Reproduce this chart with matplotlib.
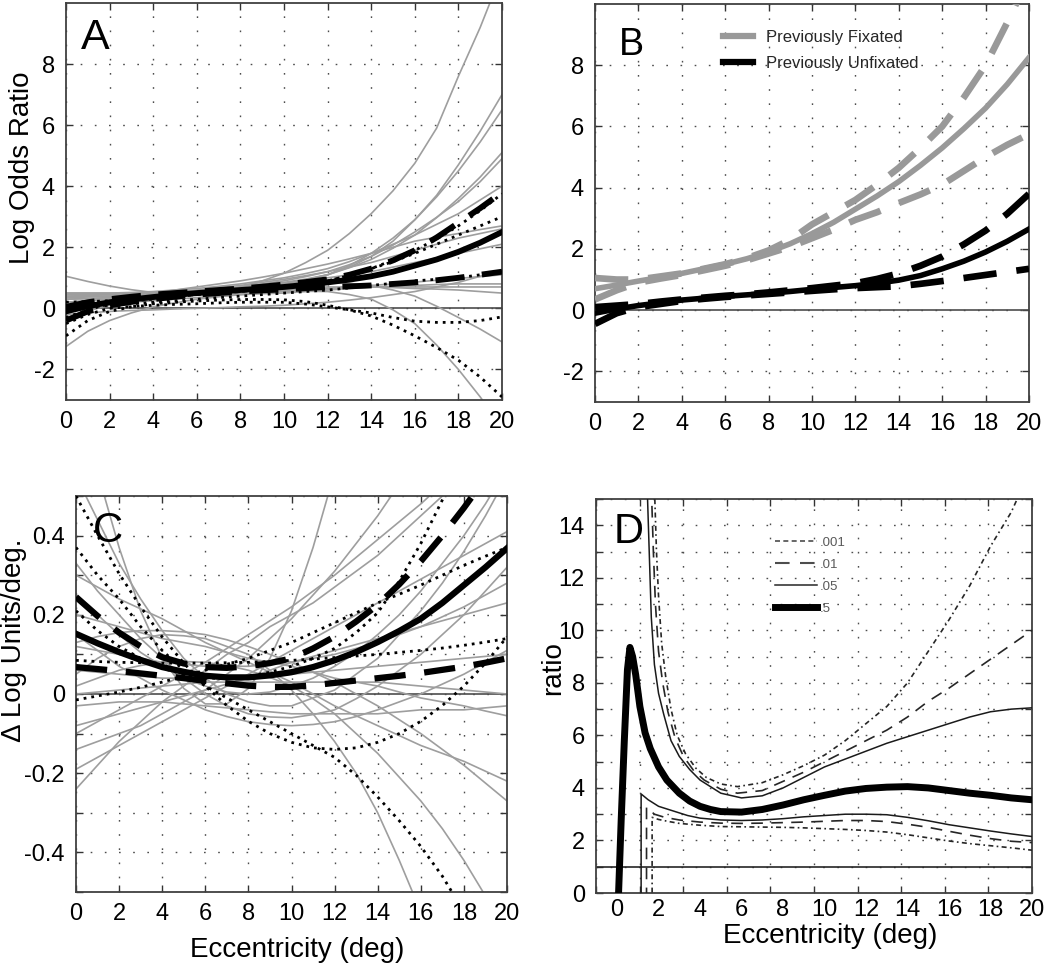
import matplotlib
matplotlib.use('Agg')
import matplotlib.pyplot as plt
from matplotlib.lines import Line2D

plt.rcParams['font.family'] = ['Liberation Sans', 'DejaVu Sans']
plt.rcParams['axes.unicode_minus'] = False

# ---------------- data ----------------
ecc = list(range(0, 21))

# Panel A : log odds ratio
a_mean = [-0.1, 0.07, 0.2, 0.29, 0.37, 0.44, 0.5, 0.55, 0.6, 0.65, 0.7, 0.77, 0.85, 0.94, 1.05,
          1.2, 1.4, 1.6, 1.85, 2.15, 2.5]
a_ci_hi = [0.05, 0.2, 0.3, 0.38, 0.45, 0.5, 0.55, 0.6, 0.65, 0.71, 0.78, 0.86, 0.95, 1.1, 1.3,
           1.57, 1.9, 2.32, 2.8, 3.28, 3.8]
a_ci_lo = [-0.4, -0.1, 0.1, 0.21, 0.3, 0.38, 0.45, 0.5, 0.55, 0.59, 0.62, 0.66, 0.7, 0.72, 0.75,
           0.8, 0.85, 0.92, 1.0, 1.1, 1.2]
a_dotted = [
    [-0.9, -0.4, -0.1, 0.05, 0.15, 0.2, 0.24, 0.27, 0.29, 0.29, 0.28, 0.22, 0.1, -0.05, -0.25,
     -0.55, -0.9, -1.28, -1.7, -2.25, -2.9],
    [-0.5, -0.2, 0.0, 0.06, 0.1, 0.13, 0.15, 0.18, 0.2, 0.2, 0.2, 0.14, 0.05, -0.05, -0.15,
     -0.3, -0.42, -0.46, -0.46, -0.4, -0.28],
    [-0.3, -0.05, 0.15, 0.24, 0.3, 0.38, 0.45, 0.5, 0.55, 0.62, 0.7, 0.79, 0.9, 1.08, 1.3,
     1.53, 1.8, 2.1, 2.4, 2.7, 3.0],
    [0.0, 0.05, 0.1, 0.15, 0.2, 0.25, 0.3, 0.35, 0.4, 0.45, 0.5, 0.55, 0.6, 0.67, 0.75,
     0.82, 0.9, 0.95, 1.0, 1.1, 1.2],
    [0.2, 0.22, 0.25, 0.3, 0.35, 0.4, 0.45, 0.5, 0.55, 0.62, 0.7, 0.79, 0.9, 1.08, 1.3,
     1.58, 1.9, 2.27, 2.7, 3.2, 3.75],
]
a_grey = [
    [0.2, 0.25, 0.3, 0.35, 0.4, 0.45, 0.5, 0.58, 0.7, 0.9, 1.15, 1.5, 1.9, 2.45, 3.1, 3.85,
     4.75, 5.9, 7.6, 9.2, 11.0],
    [0.3, 0.32, 0.35, 0.37, 0.4, 0.45, 0.5, 0.55, 0.6, 0.7, 0.8, 0.93, 1.1, 1.35, 1.7, 2.2,
     2.9, 3.7, 4.7, 5.8, 7.0],
    [0.4, 0.4, 0.4, 0.42, 0.45, 0.47, 0.5, 0.55, 0.6, 0.7, 0.8, 0.93, 1.1, 1.4, 1.8, 2.3,
     2.9, 3.65, 4.5, 5.45, 6.5],
    [0.0, 0.1, 0.2, 0.28, 0.35, 0.43, 0.5, 0.57, 0.65, 0.75, 0.85, 0.96, 1.1, 1.33, 1.6, 1.97,
     2.4, 2.97, 3.6, 4.3, 5.1],
    [-0.3, -0.08, 0.1, 0.2, 0.3, 0.4, 0.5, 0.6, 0.7, 0.8, 0.9, 1.04, 1.2, 1.43, 1.7, 2.07,
     2.5, 2.98, 3.5, 4.15, 4.9],
    [0.5, 0.5, 0.5, 0.52, 0.55, 0.6, 0.65, 0.72, 0.8, 0.9, 1.0, 1.14, 1.3, 1.53, 1.8, 2.1,
     2.4, 2.75, 3.1, 3.55, 4.0],
    [0.4, 0.42, 0.45, 0.47, 0.5, 0.6, 0.7, 0.8, 0.9, 1.02, 1.15, 1.3, 1.45, 1.62, 1.8, 2.0,
     2.2, 2.33, 2.45, 2.58, 2.7],
    [0.2, 0.25, 0.3, 0.35, 0.4, 0.45, 0.5, 0.57, 0.65, 0.72, 0.8, 0.9, 1.0, 1.1, 1.2, 1.35,
     1.5, 1.65, 1.8, 1.95, 2.1],
    [1.05, 0.88, 0.73, 0.61, 0.52, 0.47, 0.45, 0.46, 0.48, 0.52, 0.56, 0.6, 0.65, 0.7, 0.75,
     0.8, 0.86, 0.92, 0.98, 1.04, 1.1],
    [0.35, 0.37, 0.4, 0.42, 0.45, 0.47, 0.5, 0.52, 0.55, 0.57, 0.6, 0.62, 0.65, 0.67, 0.7,
     0.7, 0.7, 0.7, 0.7, 0.7, 0.7],
    [0.5, 0.5, 0.5, 0.5, 0.5, 0.52, 0.55, 0.57, 0.6, 0.62, 0.65, 0.68, 0.7, 0.7, 0.7, 0.68,
     0.65, 0.63, 0.6, 0.55, 0.5],
    [0.3, 0.32, 0.35, 0.37, 0.4, 0.45, 0.5, 0.55, 0.6, 0.67, 0.75, 0.8, 0.85, 0.82, 0.75, 0.6,
     0.4, 0.07, -0.3, -0.68, -1.1],
    [-1.25, -0.75, -0.4, -0.15, 0.05, 0.18, 0.3, 0.38, 0.45, 0.5, 0.55, 0.56, 0.55, 0.45, 0.3,
     -0.05, -0.5, -1.2, -2.0, -2.9, -3.9],
    [0.0, 0.08, 0.15, 0.2, 0.25, 0.3, 0.35, 0.4, 0.45, 0.48, 0.5, 0.55, 0.6, 0.65, 0.7, 0.72,
     0.75, 0.78, 0.8, 0.8, 0.8],
    [-0.2, -0.15, -0.1, -0.07, -0.05, -0.02, 0.0, 0.02, 0.05, 0.07, 0.1, 0.15, 0.2, 0.27, 0.35,
     0.45, 0.55, 0.7, 0.85, 1.05, 1.25],
    [0.45, 0.45, 0.45, 0.47, 0.5, 0.55, 0.6, 0.67, 0.75, 0.85, 0.95, 1.07, 1.2, 1.35, 1.5, 1.7,
     1.9, 2.1, 2.3, 2.45, 2.6],
]

# Panel B : group fits
b_fix_mean = [0.7, 0.82, 0.95, 1.07, 1.2, 1.35, 1.5, 1.68, 1.9, 2.17, 2.5, 2.87, 3.3, 3.73, 4.2,
              4.73, 5.3, 5.93, 6.6, 7.38, 8.25]
b_fix_hi = [1.05, 1.0, 1.0, 1.1, 1.2, 1.35, 1.5, 1.7, 1.95, 2.3, 2.8, 3.2, 3.6, 4.1, 4.65,
            5.3, 6.0, 6.95, 8.0, 9.4, 10.9]
b_fix_lo = [0.35, 0.65, 0.9, 1.03, 1.15, 1.3, 1.45, 1.63, 1.85, 2.07, 2.35, 2.63, 2.95, 3.2, 3.5,
            3.78, 4.1, 4.55, 5.0, 5.4, 5.75]
b_unf_mean = [-0.1, 0.04, 0.15, 0.24, 0.33, 0.39, 0.45, 0.5, 0.55, 0.61, 0.68, 0.74, 0.8, 0.88,
              0.98, 1.13, 1.35, 1.6, 1.9, 2.25, 2.65]
b_unf_hi = [0.1, 0.15, 0.2, 0.28, 0.35, 0.41, 0.47, 0.52, 0.58, 0.65, 0.72, 0.8, 0.88, 1.02, 1.2,
            1.45, 1.75, 2.15, 2.6, 3.15, 3.8]
b_unf_lo = [-0.45, -0.1, 0.1, 0.2, 0.3, 0.37, 0.43, 0.48, 0.53, 0.58, 0.63, 0.68, 0.72, 0.75,
            0.78, 0.86, 0.95, 1.05, 1.15, 1.25, 1.35]
b_labels = ['Previously Fixated', 'Previously Unfixated']

# Panel C : slope (delta log units / deg)
c_mean = [0.152, 0.128, 0.106, 0.086, 0.068, 0.056, 0.046, 0.042, 0.042, 0.047, 0.055, 0.068,
          0.085, 0.106, 0.131, 0.159, 0.19, 0.23, 0.275, 0.32, 0.368]
c_ci_hi = [0.245, 0.197, 0.155, 0.12, 0.093, 0.077, 0.068, 0.066, 0.07, 0.078, 0.09, 0.115,
           0.145, 0.183, 0.225, 0.277, 0.335, 0.4, 0.47, 0.545, 0.62]
c_ci_lo = [0.068, 0.063, 0.058, 0.052, 0.046, 0.04, 0.033, 0.027, 0.021, 0.018, 0.018, 0.022,
           0.028, 0.034, 0.04, 0.046, 0.053, 0.061, 0.069, 0.079, 0.09]
c_dotted = [
    [0.5, 0.4, 0.304, 0.22, 0.144, 0.078, 0.02, -0.029, -0.069, -0.1, -0.122, -0.136, -0.14,
     -0.136, -0.122, -0.1, -0.069, -0.029, 0.02, 0.078, 0.144],
    [0.37, 0.3, 0.24, 0.17, 0.11, 0.06, 0.02, -0.01, -0.04, -0.07, -0.1, -0.13, -0.16, -0.205,
     -0.26, -0.32, -0.385, -0.46, -0.55, -0.65, -0.75],
    [0.085, 0.082, 0.08, 0.079, 0.078, 0.078, 0.078, 0.079, 0.08, 0.082, 0.085, 0.088, 0.092,
     0.096, 0.1, 0.105, 0.11, 0.116, 0.123, 0.131, 0.14],
    [-0.015, -0.005, 0.005, 0.017, 0.03, 0.045, 0.06, 0.075, 0.09, 0.11, 0.13, 0.155, 0.18,
     0.205, 0.23, 0.252, 0.275, 0.3, 0.325, 0.348, 0.37],
    [0.21, 0.16, 0.12, 0.09, 0.065, 0.05, 0.04, 0.04, 0.045, 0.055, 0.07, 0.09, 0.115, 0.155,
     0.205, 0.285, 0.38, 0.49, 0.6, 0.72, 0.85],
]
c_grey = [
    [0.8, 0.56, 0.37, 0.21, 0.09, 0.014, -0.025, -0.025, 0.014, 0.09, 0.21, 0.37, 0.56, 0.8,
     1.07, 1.4, 1.8, 2.2, 2.6, 3.1, 3.6],
    [0.55, 0.44, 0.33, 0.24, 0.16, 0.09, 0.04, 0.0, -0.02, -0.03, -0.03, -0.01, 0.01, 0.05, 0.09,
     0.15, 0.21, 0.28, 0.36, 0.45, 0.55],
    [-0.24, -0.18, -0.12, -0.07, -0.02, 0.02, 0.06, 0.1, 0.13, 0.17, 0.2, 0.23, 0.27, 0.31, 0.35,
     0.4, 0.45, 0.5, 0.56, 0.63, 0.7],
    [-0.19, -0.16, -0.13, -0.1, -0.07, -0.04, -0.01, 0.02, 0.05, 0.08, 0.11, 0.14, 0.17, 0.2,
     0.23, 0.26, 0.29, 0.32, 0.35, 0.38, 0.41],
    [-0.08, -0.065, -0.05, -0.035, -0.02, -0.005, 0.01, 0.025, 0.04, 0.06, 0.08, 0.095, 0.11,
     0.125, 0.14, 0.155, 0.17, 0.185, 0.2, 0.215, 0.23],
    [0.3, 0.27, 0.24, 0.215, 0.19, 0.16, 0.13, 0.105, 0.08, 0.055, 0.03, 0.0, -0.03, -0.055,
     -0.08, -0.105, -0.13, -0.15, -0.17, -0.195, -0.22],
    [0.2, 0.185, 0.17, 0.155, 0.14, 0.13, 0.12, 0.105, 0.09, 0.08, 0.07, 0.055, 0.04, 0.03, 0.02,
     0.005, -0.01, -0.02, -0.03, -0.043, -0.055],
    [0.13, 0.145, 0.155, 0.16, 0.16, 0.157, 0.15, 0.137, 0.12, 0.1, 0.08, 0.055, 0.03, 0.0, -0.03,
     -0.065, -0.1, -0.14, -0.18, -0.225, -0.27],
    [0.05, 0.09, 0.12, 0.14, 0.15, 0.147, 0.14, 0.12, 0.1, 0.06, 0.01, -0.05, -0.12, -0.2, -0.3,
     -0.42, -0.55, -0.7, -0.85, -1.0, -1.2],
    [0.02, 0.04, 0.06, 0.072, 0.08, 0.082, 0.08, 0.072, 0.06, 0.042, 0.02, -0.012, -0.05, -0.1,
     -0.15, -0.21, -0.27, -0.34, -0.42, -0.51, -0.6],
    [0.15, 0.11, 0.07, 0.04, 0.01, -0.015, -0.04, -0.057, -0.07, -0.077, -0.08, -0.077, -0.07,
     -0.057, -0.04, -0.02, 0.0, 0.025, 0.05, 0.08, 0.11],
    [0.33, 0.26, 0.2, 0.14, 0.09, 0.04, 0.0, -0.03, -0.05, -0.058, -0.06, -0.052, -0.04, -0.012,
     0.02, 0.06, 0.1, 0.15, 0.2, 0.26, 0.32],
    [-0.1, -0.07, -0.04, -0.01, 0.02, 0.05, 0.08, 0.115, 0.15, 0.185, 0.22, 0.26, 0.3, 0.345,
     0.39, 0.435, 0.48, 0.53, 0.58, 0.63, 0.68],
    [0.0, 0.005, 0.01, 0.015, 0.02, 0.025, 0.03, 0.03, 0.03, 0.03, 0.03, 0.03, 0.03, 0.03, 0.03,
     0.025, 0.02, 0.015, 0.01, 0.005, 0.0],
    [0.06, 0.055, 0.05, 0.045, 0.04, 0.04, 0.04, 0.04, 0.04, 0.045, 0.05, 0.055, 0.06, 0.065,
     0.07, 0.075, 0.08, 0.085, 0.09, 0.095, 0.1],
    [0.25, 0.2, 0.15, 0.105, 0.07, 0.04, 0.02, 0.005, 0.0, 0.005, 0.02, 0.04, 0.07, 0.105, 0.15,
     0.2, 0.26, 0.33, 0.4, 0.48, 0.57],
    [-0.03, -0.025, -0.02, -0.02, -0.02, -0.025, -0.03, -0.035, -0.04, -0.045, -0.05, -0.05,
     -0.05, -0.05, -0.05, -0.045, -0.04, -0.04, -0.04, -0.035, -0.03],
    [0.12, 0.11, 0.1, 0.09, 0.08, 0.075, 0.07, 0.07, 0.07, 0.075, 0.08, 0.09, 0.1, 0.115, 0.13,
     0.15, 0.17, 0.195, 0.22, 0.25, 0.28],
    [-0.14, -0.12, -0.1, -0.08, -0.05, -0.02, 0.01, 0.05, 0.09, 0.14, 0.19, 0.25, 0.31, 0.38,
     0.45, 0.53, 0.62, 0.72, 0.83, 0.95, 1.08],
]

# Panel D : ratio, per significance level
d_p5_x = [0.05, 0.2, 0.35, 0.5, 0.62, 0.75, 0.9, 1.1, 1.35, 1.6, 2.0, 2.4, 3.0, 3.5, 4.0, 4.5,
          5.0, 6, 7, 8, 9, 10, 11, 12, 13, 14, 15, 16, 17, 18, 19, 20]
d_p5_y = [-0.5, 2.8, 5.8, 8.5, 9.35, 9.0, 8.3, 7.1, 6.1, 5.5, 4.8, 4.3, 3.8, 3.5, 3.3, 3.18,
          3.1, 3.08, 3.18, 3.35, 3.55, 3.72, 3.88, 3.98, 4.03, 4.05, 4.0, 3.9, 3.8, 3.72, 3.62, 3.55]
d_05_hi_x = [1.45, 1.55, 1.65, 1.8, 2.0, 2.25, 2.6, 3.0, 3.5, 4.0, 5.0, 6.0, 7.0, 8.0, 9.0, 10,
             11, 12, 13, 14, 15, 16, 17, 18, 19, 20]
d_05_hi_y = [15.5, 13, 10.5, 8.7, 7.6, 6.8, 5.8, 5.2, 4.7, 4.3, 3.8, 3.62, 3.7, 4.0, 4.4, 4.8,
             5.1, 5.4, 5.7, 5.95, 6.2, 6.45, 6.7, 6.9, 7.0, 7.05]
d_01_hi_x = [1.65, 1.75, 1.85, 2.0, 2.2, 2.45, 2.8, 3.2, 3.7, 4.2, 5.0, 5.8, 7, 8, 9, 10, 11, 12,
             13, 14, 15, 16, 17, 18, 19, 20]
d_01_hi_y = [15.5, 13, 11, 9.2, 8.0, 6.9, 5.9, 5.2, 4.65, 4.3, 3.95, 3.8, 3.9, 4.25, 4.6, 5.0,
             5.4, 5.8, 6.2, 6.7, 7.3, 7.8, 8.35, 8.9, 9.45, 10.0]
d_001_hi_x = [1.8, 1.9, 2.0, 2.15, 2.35, 2.6, 2.9, 3.3, 3.8, 4.3, 5.0, 5.8, 7, 8, 9, 10, 11, 12,
              13, 14, 15, 16, 17, 18, 19, 19.4]
d_001_hi_y = [15.5, 13, 11.3, 9.5, 8.2, 7.0, 6.0, 5.3, 4.75, 4.4, 4.15, 4.05, 4.2, 4.5, 4.85,
              5.25, 5.8, 6.45, 7.1, 8.0, 9.2, 10.4, 11.7, 13.2, 14.5, 15.2]
d_05_lo_x = [1.16, 1.16, 1.5, 2.0, 2.6, 3.4, 4, 5, 6, 7, 8, 9, 10, 11, 12, 13, 14, 15, 16, 17,
             18, 19, 20]
d_05_lo_y = [-1, 3.77, 3.55, 3.3, 3.15, 2.95, 2.85, 2.78, 2.76, 2.78, 2.83, 2.9, 2.95, 3.0, 3.0,
             2.98, 2.88, 2.75, 2.6, 2.48, 2.36, 2.25, 2.15]
d_01_lo_x = [1.42, 1.42, 1.8, 2.3, 3, 4, 5, 6, 7, 8, 9, 10, 11, 12, 13, 14, 15, 16, 17, 18, 19, 20]
d_01_lo_y = [-1, 3.26, 3.0, 2.88, 2.78, 2.7, 2.66, 2.65, 2.66, 2.68, 2.7, 2.73, 2.76, 2.76, 2.72,
             2.62, 2.5, 2.35, 2.2, 2.07, 1.97, 1.92]
d_001_lo_x = [1.69, 1.69, 2.0, 2.5, 3, 4, 5, 6, 7, 8, 9, 10, 11, 12, 13, 14, 15, 16, 17, 18, 19, 20]
d_001_lo_y = [-1, 2.88, 2.8, 2.72, 2.65, 2.58, 2.53, 2.52, 2.51, 2.5, 2.48, 2.45, 2.42, 2.38, 2.32,
              2.22, 2.1, 1.98, 1.88, 1.8, 1.72, 1.63]
d_labels = ['.001', '.01', '.05', '.5']

# ---------------- styling helpers ----------------
GRID_LS = (0, (1.2, 9))
GREY = '0.62'
BLACK_DASH = (0, (5, 3))
DOT_LS = (0, (1, 1.8))

fig = plt.figure(figsize=(10.5, 9.64), dpi=100)

axA = fig.add_axes([0.06286, 0.5851, 0.41524, 0.41183])
axB = fig.add_axes([0.56667, 0.58299, 0.41333, 0.41286])
axC = fig.add_axes([0.07238, 0.07469, 0.41048, 0.41079])
axD = fig.add_axes([0.56762, 0.07365, 0.41524, 0.40871])


def base_style(ax):
    for s in ax.spines.values():
        s.set_linewidth(1.3)
        s.set_color('0.25')
    ax.tick_params(which='both', direction='in', top=True, right=True, length=5,
                   width=1.0, color='0.2', labelsize=17, pad=8)
    ax.grid(True, which='both', linestyle=GRID_LS, color='0.3', linewidth=1.0)
    ax.set_axisbelow(True)


# ---- Panel A ----
axA.set_xlim(0, 20)
axA.set_ylim(-3, 10)
axA.set_xticks(range(0, 21, 2))
axA.set_yticks(range(-2, 9, 2))
base_style(axA)
axA.axhline(0, color='0.3', lw=1.2, zorder=1)
for g in a_grey:
    axA.plot(ecc, g, color=GREY, lw=1.2, zorder=2)
for d in a_dotted:
    axA.plot(ecc, d, color='black', lw=2.0, linestyle=DOT_LS, zorder=3)
axA.plot(ecc, a_ci_hi, color='black', lw=4.2, linestyle=BLACK_DASH, dash_capstyle='butt', zorder=4)
axA.plot(ecc, a_ci_lo, color='black', lw=4.2, linestyle=BLACK_DASH, dash_capstyle='butt', zorder=4)
axA.plot(ecc, a_mean, color='black', lw=4.2, zorder=5)
axA.set_ylabel('Log Odds Ratio', fontsize=20)
axA.yaxis.set_label_coords(-0.101, 0.584)
axA.yaxis.label.set_va('center')
axA.text(0.0665, 0.912, 'A', transform=axA.transAxes, fontsize=31, ha='center', va='center')

# ---- Panel B ----
axB.set_xlim(0, 20)
axB.set_ylim(-3, 10)
axB.set_xticks(range(0, 21, 2))
axB.set_yticks(range(-2, 9, 2))
base_style(axB)
axB.axhline(0, color='0.3', lw=1.2, zorder=1)
axB.plot(ecc, b_fix_hi, color='0.6', lw=4.8, linestyle=BLACK_DASH, dash_capstyle='butt', zorder=3)
axB.plot(ecc, b_fix_lo, color='0.6', lw=4.8, linestyle=BLACK_DASH, dash_capstyle='butt', zorder=3)
axB.plot(ecc, b_fix_mean, color='0.6', lw=4.0, zorder=4)
axB.plot(ecc, b_unf_hi, color='black', lw=4.8, linestyle=BLACK_DASH, dash_capstyle='butt', zorder=5)
axB.plot(ecc, b_unf_lo, color='black', lw=4.8, linestyle=BLACK_DASH, dash_capstyle='butt', zorder=5)
axB.plot(ecc, b_unf_mean, color='black', lw=4.0, zorder=6)
legB = axB.legend([Line2D([], [], color='0.6', lw=4.5), Line2D([], [], color='black', lw=4.5)],
                  b_labels, loc='upper left', bbox_to_anchor=(0.295, 0.935), frameon=False,
                  borderpad=0, borderaxespad=0, handlelength=1.8, handletextpad=0.8,
                  labelspacing=0.65, prop={'size': 12})
for t in legB.get_texts():
    t.set_color('0.15')
axB.text(0.083, 0.897, 'B', transform=axB.transAxes, fontsize=27, ha='center', va='center')

# ---- Panel C ----
axC.set_xlim(0, 20)
axC.set_ylim(-0.5, 0.5)
axC.set_xticks(range(0, 21, 2))
axC.set_yticks([-0.4, -0.2, 0, 0.2, 0.4])
axC.set_yticklabels(['-0.4', '-0.2', '0', '0.2', '0.4'])
axC.set_yticks([-0.5, -0.3, -0.1, 0.1, 0.3, 0.5], minor=True)
base_style(axC)
axC.axhline(0, color='0.3', lw=1.2, zorder=1)
for g in c_grey:
    axC.plot(ecc, g, color=GREY, lw=1.2, zorder=2)
for d in c_dotted:
    axC.plot(ecc, d, color='black', lw=2.0, linestyle=DOT_LS, zorder=3)
axC.plot(ecc, c_ci_hi, color='black', lw=4.5, linestyle=BLACK_DASH, dash_capstyle='butt', zorder=4)
axC.plot(ecc, c_ci_lo, color='black', lw=4.5, linestyle=BLACK_DASH, dash_capstyle='butt', zorder=4)
axC.plot(ecc, c_mean, color='black', lw=4.5, zorder=5)
axC.set_ylabel('\u0394 Log Units/deg.', fontsize=20)
axC.yaxis.set_label_coords(-0.143, 0.636)
axC.yaxis.label.set_va('center')
axC.set_xlabel('Eccentricity (deg)', fontsize=20)
axC.xaxis.set_label_coords(0.513, -0.146)
axC.xaxis.label.set_va('center')
axC.text(0.074, 0.912, 'C', transform=axC.transAxes, fontsize=30, ha='center', va='center')

# ---- Panel D ----
axD.set_xlim(-1.015, 20)
axD.set_ylim(0, 15)
axD.set_xticks(range(0, 21, 2))
axD.set_xticks([(g - 0.966) / 0.952 for g in range(0, 21, 2)], minor=True)
axD.set_yticks(range(0, 15, 2))
axD.set_yticks(range(1, 16, 2), minor=True)
base_style(axD)
axD.tick_params(axis='x', which='major', length=0, pad=4)
axD.grid(False, axis='x', which='major')
axD.axhline(1, color='0.15', lw=1.2, zorder=1)
ls001 = (0, (3, 2, 1, 2))
ls01 = (0, (7, 5))
axD.plot(d_001_hi_x, d_001_hi_y, color='0.15', lw=1.2, linestyle=ls001, zorder=3)
axD.plot(d_001_lo_x, d_001_lo_y, color='0.15', lw=1.2, linestyle=ls001, zorder=3)
axD.plot(d_01_hi_x, d_01_hi_y, color='0.15', lw=1.2, linestyle=ls01, zorder=3)
axD.plot(d_01_lo_x, d_01_lo_y, color='0.15', lw=1.2, linestyle=ls01, zorder=3)
axD.plot(d_05_hi_x, d_05_hi_y, color='0.1', lw=1.1, zorder=3)
axD.plot(d_05_lo_x, d_05_lo_y, color='0.1', lw=1.1, zorder=3)
axD.plot(d_p5_x, d_p5_y, color='black', lw=5.0, zorder=4, solid_joinstyle='round')
legD = axD.legend([Line2D([], [], color='0.3', lw=1.2, linestyle=(0, (3, 2))),
                   Line2D([], [], color='0.3', lw=1.5, linestyle=ls01),
                   Line2D([], [], color='0.15', lw=1.1),
                   Line2D([], [], color='black', lw=5.0)],
                  d_labels, loc='upper left', bbox_to_anchor=(0.41, 0.905), frameon=False,
                  borderpad=0, borderaxespad=0, handlelength=3.2, handletextpad=0.2,
                  labelspacing=0.75, prop={'size': 9.5})
for t in legD.get_texts():
    t.set_color('0.35')
axD.set_ylabel('ratio', fontsize=20)
axD.yaxis.set_label_coords(-0.099, 0.571)
axD.yaxis.label.set_va('center')
axD.set_xlabel('Eccentricity (deg)', fontsize=20)
axD.xaxis.set_label_coords(0.537, -0.11)
axD.xaxis.label.set_va('center')
axD.text(0.0757, 0.916, 'D', transform=axD.transAxes, fontsize=30, ha='center', va='center')

fig.savefig('out.png', dpi=100, facecolor='white')
